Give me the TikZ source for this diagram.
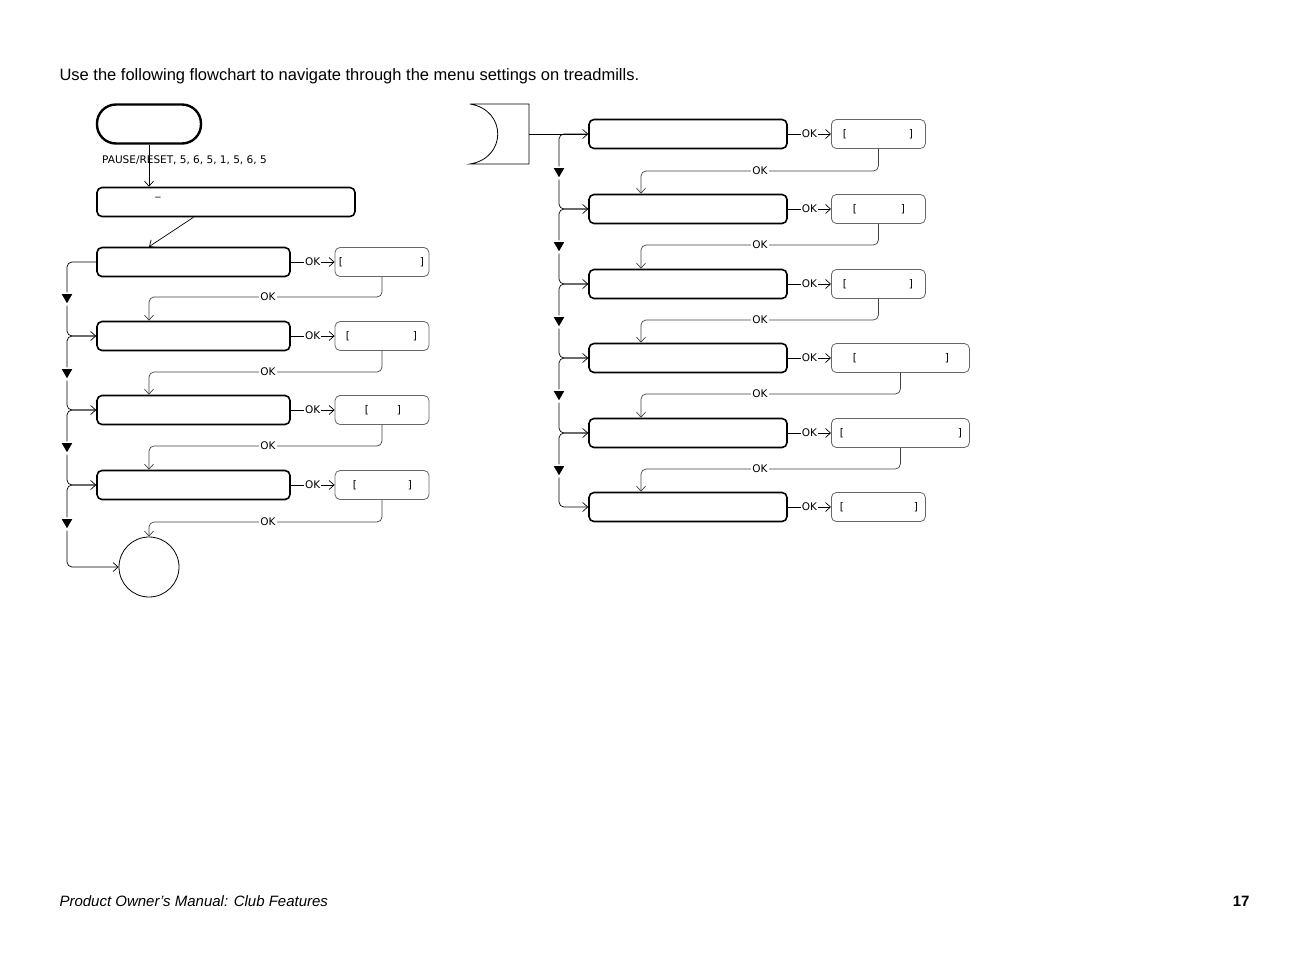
\documentclass[tikz,border=0pt]{standalone}
\usepackage{fontspec}
\setmainfont{Liberation Sans}
\newfontfamily\lblfont{DejaVu Sans}
\usetikzlibrary{arrows.meta}
\usetikzlibrary{shapes}
\usetikzlibrary{positioning}

\tikzset{
	menu/.style={draw, line width=1.6pt, rounded corners=5pt, minimum height=29pt, inner sep=0pt},
	value/.style={draw=black!60, line width=0.8pt, rounded corners=5pt, minimum width=94pt, minimum height=29pt, inner sep=0pt},
	lbl/.style={font=\lblfont\fontsize{10.5}{12}\selectfont, inner sep=1pt},
	oklbl/.style={lbl, fill=white},
	flow/.style={line width=0.7pt, -{Straight Barb[length=5pt,width=9pt]}},
	back/.style={flow, draw=black!75, rounded corners=5pt},
	rail/.style={flow, rounded corners=5pt},
	tri/.style={regular polygon, regular polygon sides=3, shape border rotate=180, fill=black, draw=white, line width=1.5pt, minimum size=16pt, inner sep=0pt},
}
\newcommand{\brk}[4]{% node, y, left x, right x
	\node[lbl] at (#3,#2) {[}; \node[lbl] at (#4,#2) {]};}

\begin{document}
\begin{tikzpicture}[x=1pt, y=-1pt]
	\useasboundingbox (0,0) rectangle (1312,954);
	\node[anchor=west, font=\fontsize{16.5}{19}\selectfont] (title) at (56,76) {Use the following flowchart to navigate through the menu settings on treadmills.};
	
	% left column
	\node[draw, line width=2.4pt, rounded corners=19pt, minimum width=104pt, minimum height=39pt] (start) at (149,124) {};
	\node[lbl, anchor=west] (keys) at (101,160) {PAUSE/RESET, 5, 6, 5, 1, 5, 6, 5};
	\node[menu, minimum width=258pt] (code) at (226,202) {};
	\node[lbl] (cursor) at (158,197) {\_};
	\draw[flow] (start) -- (code.north -| start);
	
	\foreach \i/\y in {1/262, 2/336, 3/410, 4/485}{
		\node[menu, minimum width=193pt] (m\i) at (193.5,\y) {};
		\node[value] (v\i) at (382,\y) {};
		\draw[flow] (m\i) -- node[oklbl] {OK} (v\i);
	}
	\brk{v1}{262}{341}{422}
	\brk{v2}{336}{348}{415}
	\brk{v3}{410}{367}{399}
	\brk{v4}{485}{355}{410}
	\draw[flow] (code.south -| m1) -- (m1.north -| code.south -| start);
	
	\node[draw, line width=0.8pt, circle, minimum size=60pt] (done) at (149,567) {};
	\foreach \i/\j/\y in {1/2/297, 2/3/372, 3/4/446}{
		\draw[back] (v\i.south) |- (149,\y) -- (m\j.north -| 149,0);
		\node[oklbl] at (268,\y) {OK};
		\draw[rail] (m\i.west) -| (67,\y) |- (m\j.west);
		\node[tri] at (67,\y) {};
	}
	\draw[back] (v4.south) |- (149,522) -- (done.north);
	\node[oklbl] at (268,522) {OK};
	\draw[rail] (m4.west) -| (67,522) |- (done.west);
	\node[tri] at (67,522) {};
	
	% right column
	\draw[line width=0.8pt] (470,104) -- (529,104) -- (529,164) -- (470,164)
		.. controls (507,158) and (507,110) .. (470,104);
	\coordinate (conn) at (529,134);
	\foreach \i/\y/\w in {1/134/94, 2/209/94, 3/284/94, 4/358/138, 5/433/138, 6/507/94}{
		\node[menu, minimum width=198pt] (r\i) at (688,\y) {};
		\node[value, minimum width=\w pt, anchor=west] (w\i) at (831,\y) {};
		\draw[flow] (r\i) -- node[oklbl] {OK} (w\i);
	}
	\draw[flow] (conn) -- (r1.west);
	\brk{w1}{134}{845}{911}
	\brk{w2}{209}{855}{903}
	\brk{w3}{284}{845}{911}
	\brk{w4}{358}{855}{947}
	\brk{w5}{433}{842}{960}
	\brk{w6}{507}{842}{916}
	\foreach \i/\j/\y in {1/2/171, 2/3/245, 3/4/320, 4/5/394, 5/6/469}{
		\draw[back] (w\i.south -| w\i.center) |- (641,\y) -- (r\j.north -| 641,0);
		\node[oklbl] at (760,\y) {OK};
		\draw[rail] (r\i.west) -| (559,\y) |- (r\j.west);
		\node[tri] at (559,\y) {};
	}
	
	\node[anchor=west, font=\itshape\fontsize{15}{18}\selectfont] (foot) at (56,901) {Product Owner's Manual: Club Features};
	\node[anchor=east, font=\bfseries\fontsize{15}{18}\selectfont] (page) at (1253,901) {17};
\end{tikzpicture}
\end{document}
